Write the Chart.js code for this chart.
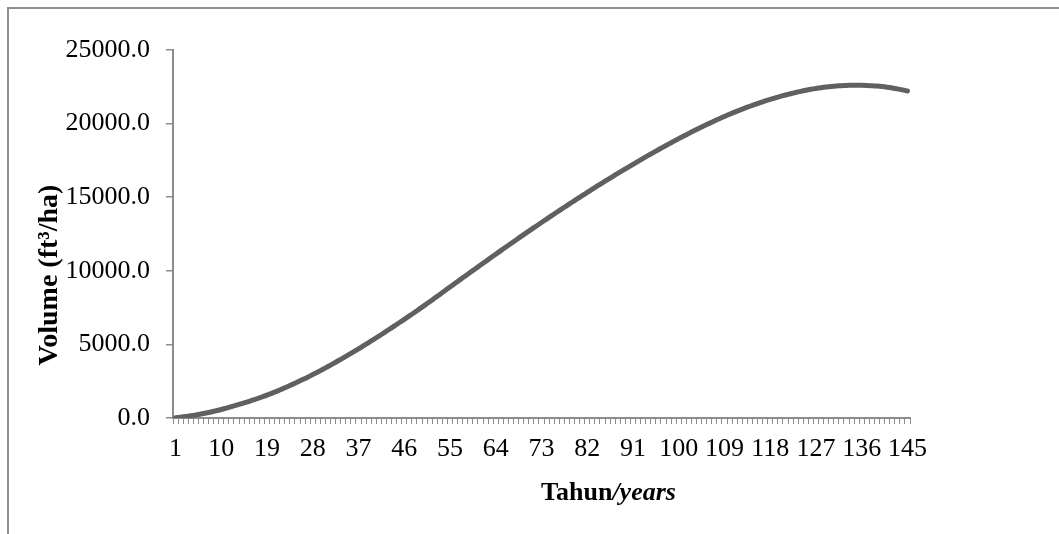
<!DOCTYPE html>
<html>
<head>
<meta charset="utf-8">
<script src="https://cdn.jsdelivr.net/npm/chart.js@4.4.1/dist/chart.umd.min.js"></script>
<style>
  html, body { margin: 0; padding: 0; background: #fff; }
  #wrap { position: relative; width: 1059px; height: 534px; overflow: hidden; }
  #frame { position: absolute; left: 7px; top: 7px; right: -10px; bottom: -10px;
           border-top: 2px solid #8f8f8f; border-left: 2px solid #8f8f8f; }
  #c { position: absolute; left: 0; top: 0; }
</style>
</head>
<body>
<div id="wrap">
  <div id="frame"></div>
  <canvas id="c" width="1059" height="534"></canvas>
</div>
<script>
'use strict';
// years 1..145 on the category axis
let years = Array.from({ length: 145 }, (_, i) => String(i + 1));
// only these years get a label under the axis
let xTickLabels = ['1', '10', '19', '28', '37', '46', '55', '64', '73', '82', '91', '100', '109', '118', '127', '136', '145'];
let yMin = 0;
let yMax = 25000;
let yStep = 5000;

// volume, one value per year
let volume = [
    20, 58, 102, 152, 208, 270, 338, 412, 492, 580,
    672, 768, 868, 972, 1080, 1192, 1308, 1427, 1550, 1687,
    1829, 1976, 2128, 2284, 2444, 2608, 2776, 2950, 3128, 3311,
    3499, 3691, 3886, 4085, 4287, 4492, 4700, 4911, 5125, 5342,
    5562, 5785, 6011, 6239, 6469, 6700, 6934, 7171, 7411, 7654,
    7899, 8146, 8396, 8648, 8900, 9150, 9399, 9648, 9896, 10144,
    10391, 10637, 10882, 11127, 11371, 11614, 11856, 12097, 12336, 12574,
    12811, 13047, 13281, 13514, 13745, 13975, 14204, 14431, 14657, 14881,
    15104, 15325, 15544, 15762, 15978, 16192, 16404, 16614, 16823, 17030,
    17235, 17438, 17639, 17837, 18033, 18227, 18418, 18607, 18793, 18977,
    19158, 19336, 19511, 19682, 19850, 20015, 20176, 20333, 20487, 20637,
    20780, 20918, 21051, 21179, 21303, 21422, 21536, 21645, 21749, 21848,
    21942, 22031, 22114, 22192, 22264, 22330, 22389, 22441, 22486, 22524,
    22555, 22579, 22596, 22606, 22609, 22605, 22594, 22575, 22548, 22513,
    22470, 22419, 22360, 22293, 22218
];

let yTitle = 'Volume (ft\u00b3/ha)';
let xTitleMain = 'Tahun';
let xTitleSub = '/years';

let serif = "'Liberation Serif', 'Times New Roman', serif";
let axisGray = '#8c8c8c';

// axis titles drawn by hand so "Tahun" and "/years" can have different styles
let axisTitles = {
    id: 'axisTitles',
    afterDraw(chart) {
        let ctx = chart.ctx;
        let area = chart.chartArea;
        ctx.save();
        ctx.fillStyle = '#000';
        ctx.textBaseline = 'alphabetic';
        ctx.textAlign = 'left';
        ctx.font = 'bold 26px ' + serif;
        let w1 = ctx.measureText(xTitleMain).width;
        ctx.font = 'italic bold 26px ' + serif;
        let w2 = ctx.measureText(xTitleSub).width;
        let cx = (area.left + area.right) / 2 + 67;
        let x = cx - (w1 + w2) / 2;
        let y = area.bottom + 82;
        ctx.font = 'bold 26px ' + serif;
        ctx.fillText(xTitleMain, x, y);
        ctx.font = 'italic bold 26px ' + serif;
        ctx.fillText(xTitleSub, x + w1, y);

        ctx.translate(50, (area.top + area.bottom) / 2 + 41);
        ctx.rotate(-Math.PI / 2);
        ctx.textAlign = 'center';
        ctx.textBaseline = 'middle';
        ctx.font = 'bold 28px ' + serif;
        ctx.fillText(yTitle, 0, 0);
        ctx.restore();
    }
};

let ctx = document.getElementById('c').getContext('2d');
let myChart = new Chart(ctx, {
    type: 'line',
    data: {
        labels: years,
        datasets: [{
            data: volume,
            borderColor: '#606060',
            borderWidth: 5,
            borderCapStyle: 'round',
            pointRadius: 0,
            tension: 0.3,
            fill: false
        }]
    },
    options: {
        responsive: false,
        animation: false,
        layout: { padding: { left: 0, top: 50, right: 149, bottom: 76 } },
        plugins: {
            legend: { display: false },
            tooltip: { enabled: false }
        },
        scales: {
            x: {
                type: 'category',
                offset: true,
                afterFit: function (scale) { scale.height = 40; },
                grid: {
                    offset: true,
                    drawOnChartArea: false,
                    drawTicks: true,
                    tickLength: 6,
                    color: axisGray,
                    lineWidth: 1
                },
                border: { display: true, color: axisGray, width: 2 },
                ticks: {
                    autoSkip: false,
                    maxRotation: 0,
                    minRotation: 0,
                    padding: 10,
                    color: '#000',
                    font: { family: serif, size: 26 },
                    callback: function (val, idx) {
                        return xTickLabels.includes(years[idx]) ? years[idx] : '';
                    }
                }
            },
            y: {
                min: yMin,
                max: yMax,
                afterFit: function (scale) { scale.width = 173; },
                grid: {
                    drawOnChartArea: false,
                    drawTicks: true,
                    tickLength: 7,
                    color: axisGray,
                    lineWidth: 1.5
                },
                border: { display: true, color: axisGray, width: 2 },
                ticks: {
                    stepSize: yStep,
                    padding: 16,
                    color: '#000',
                    font: { family: serif, size: 26 },
                    callback: function (v) { return v.toFixed(1); }
                }
            }
        }
    },
    plugins: [axisTitles]
});
</script>
</body>
</html>
